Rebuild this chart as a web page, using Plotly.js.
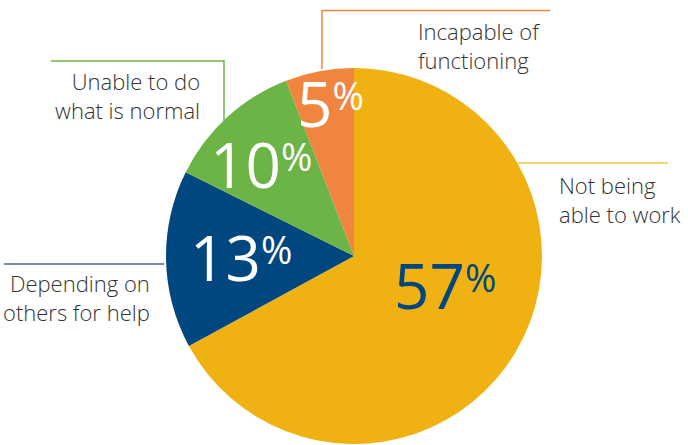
<!DOCTYPE html>
<html>
<head>
<meta charset="utf-8">
<script src="https://cdn.plot.ly/plotly-3.0.1.min.js"></script>
<style>
html,body{margin:0;padding:0;background:#fff;overflow:hidden;}
#chart{width:688px;height:445px;}
</style>
</head>
<body>
<div id="chart"></div>
<script>
// ---- data ----
var categories = ["Not being able to work", "Depending on others for help", "Unable to do what is normal", "Incapable of functioning"];
var labelText = ["Not being<br>able to work", "Depending on<br>others for help", "Unable to do<br>what is normal", "Incapable of<br>functioning"];
var values = [57, 13, 10, 5];
var sliceColors = ["#F0B213", "#00467F", "#6CB446", "#F08540"];
var pctColors = ["#00467F", "#ffffff", "#ffffff", "#ffffff"];
var lineColors = ["#F5C94A", "#3F6A90", "#6CB446", "#F08540"];

// ---- layout helpers (pixel -> paper) ----
var W = 688, H = 445;
function px(x) { return x / W; }
function py(y) { return 1 - y / H; }

// pie geometry: center (354,256), radius 188
var cx = 354, cy = 256, r = 188;

var FONT = "Open Sans, Noto Sans, sans-serif";

// percentage label centers (pixels)
var pctPos = [[445, 285], [241, 257], [261, 164], [330, 103]];
// label block placement: [x, center y, anchor]
var labelPos = [[557, 199, "left"], [152, 297.5, "right"], [202, 95.5, "right"], [416, 45.5, "left"]];
// leader line paths (pixels)
var leaderPaths = [
  [[518, 163], [668, 163]],
  [[164, 264], [4, 264]],
  [[224, 121], [224, 61], [51, 61]],
  [[322, 69], [322, 10.5], [550, 10.5]]
];

var annotations = [];
values.forEach(function (v, i) {
  annotations.push({
    xref: "paper", yref: "paper",
    x: px(pctPos[i][0]), y: py(pctPos[i][1]),
    xanchor: "center", yanchor: "middle",
    showarrow: false,
    text: v + "<span style=\"font-size:38px;baseline-shift:17px\">%</span>",
    font: { family: FONT, size: 62, weight: 400, color: pctColors[i] }
  });
  annotations.push({
    xref: "paper", yref: "paper",
    x: px(labelPos[i][0]), y: py(labelPos[i][1]),
    xanchor: labelPos[i][2], yanchor: "middle", align: labelPos[i][2],
    showarrow: false,
    text: labelText[i],
    font: { family: FONT, size: 22, weight: 300, color: "#333333" }
  });
});

var shapes = leaderPaths.map(function (pts, i) {
  var d = pts.map(function (p, k) { return (k ? "L" : "M") + px(p[0]) + "," + py(p[1]); }).join(" ");
  return {
    type: "path", xref: "paper", yref: "paper", path: d,
    line: { color: lineColors[i], width: 1.5 }
  };
});

var trace = {
  type: "pie",
  labels: categories,
  values: values,
  sort: false,
  direction: "clockwise",
  rotation: 0,
  textinfo: "none",
  hoverinfo: "label+value",
  marker: { colors: sliceColors, line: { width: 0 } },
  domain: { x: [px(cx - r), px(cx + r)], y: [py(cy + r), py(cy - r)] },
  showlegend: false
};

var layout = {
  width: W, height: H,
  margin: { l: 0, r: 0, t: 0, b: 0, pad: 0 },
  paper_bgcolor: "#ffffff",
  plot_bgcolor: "#ffffff",
  showlegend: false,
  annotations: annotations,
  shapes: shapes
};

Plotly.newPlot("chart", [trace], layout, { displayModeBar: false, staticPlot: true });
</script>
</body>
</html>
